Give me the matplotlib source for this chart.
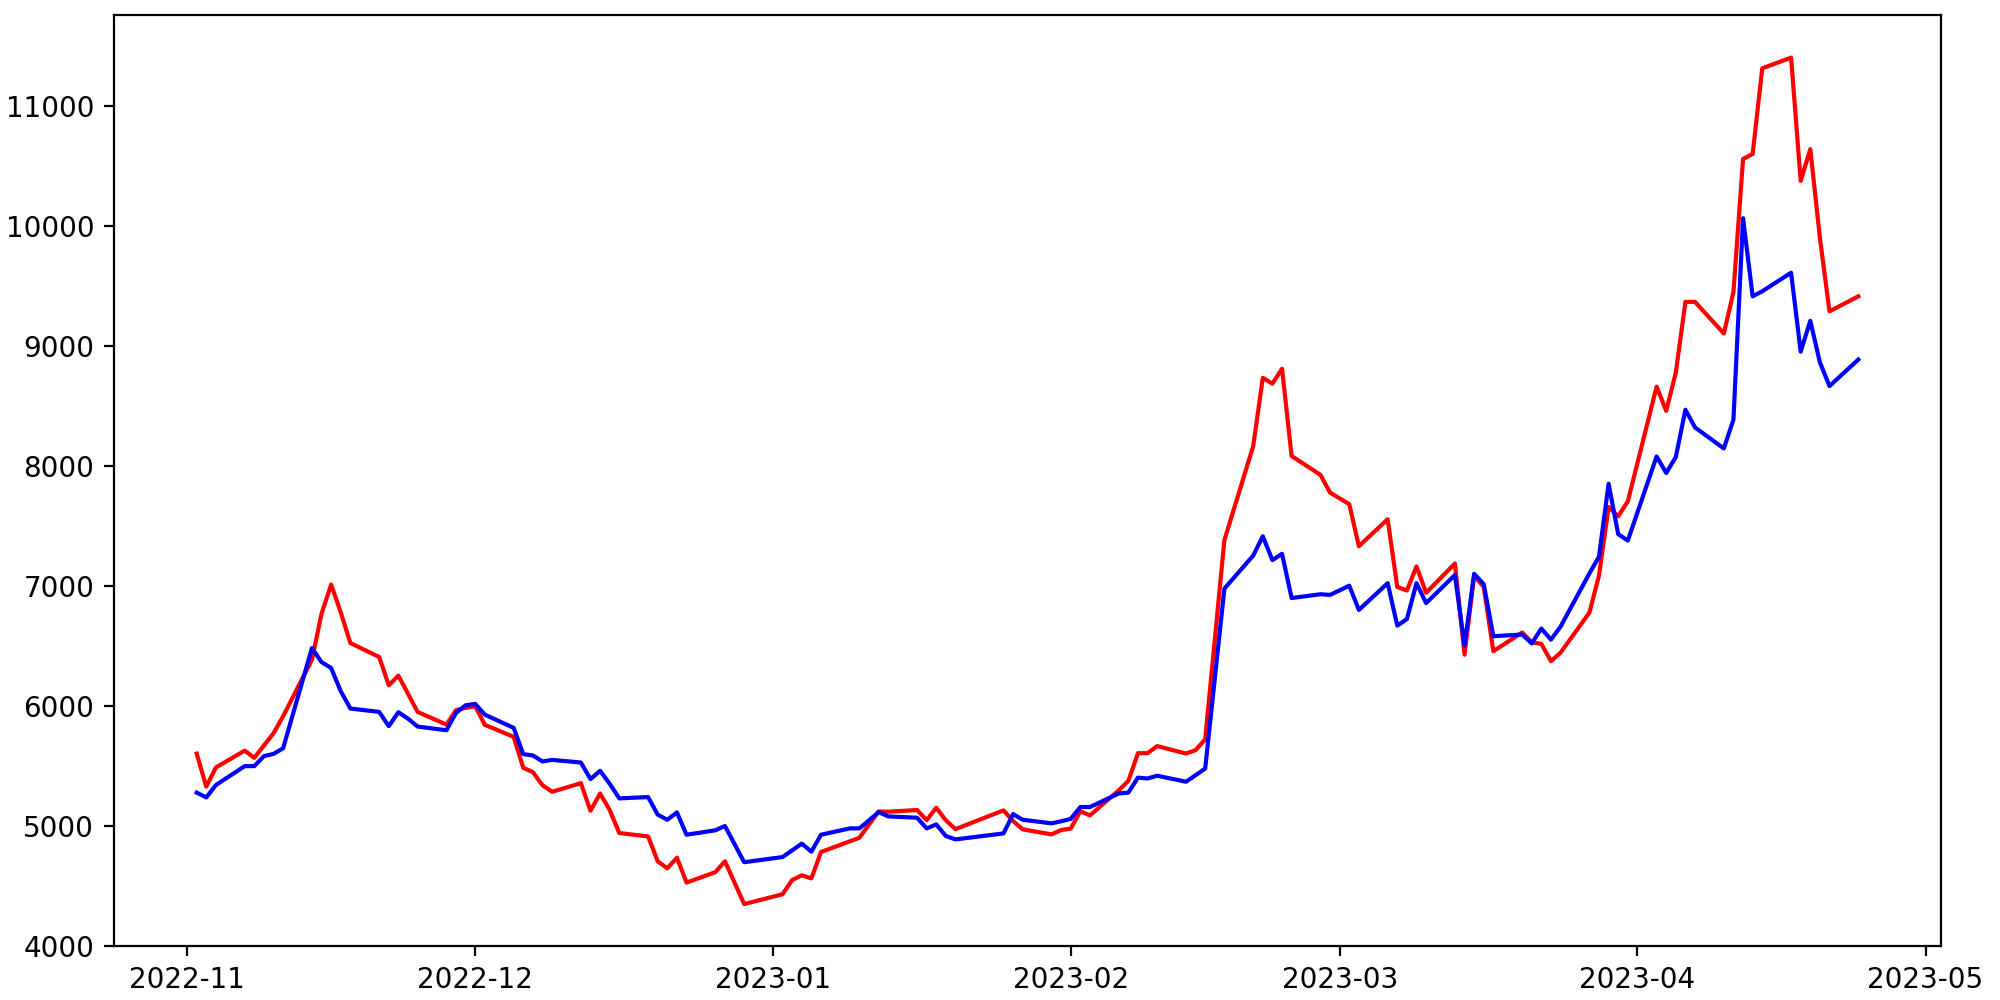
import matplotlib
matplotlib.use("Agg")
import matplotlib.pyplot as plt
import pandas as pd

# trading days, Nov 2 2022 .. Apr 24 2023 (weekday calendar minus closed days)
start_day = "2022-11-02"
end_day = "2023-04-24"
closed_days = ["2022-12-28", "2022-12-30", "2023-01-23", "2023-01-24",
               "2023-02-16", "2023-03-01"]

# red series
red_vals = [
    # Nov
    5605, 5330, 5490, 5630, 5570, 5673, 5775, 5917, 6388, 6771, 7015,
    6782, 6527, 6411, 6175, 6255, 6105, 5953, 5847, 5967, 5986,
    # Dec
    6000, 5845, 5745, 5487, 5451, 5342, 5287, 5359, 5129, 5273, 5135,
    4943, 4915, 4707, 4649, 4738, 4530, 4617, 4708, 4351,
    # Jan
    4433, 4552, 4591, 4565, 4785, 4874, 4904, 5013, 5123, 5121, 5135,
    5051, 5154, 5049, 4976, 5132, 5043, 4974, 4932, 4968,
    # Feb
    4980, 5125, 5090, 5299, 5378, 5609, 5609, 5668, 5606, 5634, 5725,
    7385, 8169, 8738, 8689, 8814, 8086, 7929, 7781,
    # Mar
    7685, 7334, 7559, 6994, 6965, 7165, 6946, 7190, 6430, 7085, 6997,
    6459, 6615, 6533, 6520, 6376, 6447, 6780, 7090, 7661, 7583, 7708,
    # Apr
    8664, 8462, 8782, 9371, 9371, 9107, 9453, 10562, 10604, 11318, 11407,
    10380, 10644, 9904, 9292, 9417,
]

# blue series
blue_vals = [
    # Nov
    5280, 5240, 5343, 5501, 5501, 5584, 5603, 5650, 6485, 6368, 6319,
    6125, 5981, 5953, 5834, 5950, 5897, 5831, 5800, 5945, 6008,
    # Dec
    6020, 5930, 5820, 5601, 5590, 5540, 5553, 5531, 5393, 5462, 5354,
    5232, 5243, 5096, 5054, 5115, 4929, 4966, 5002, 4700,
    # Jan
    4743, 4799, 4855, 4788, 4929, 4982, 4982, 5049, 5118, 5082, 5071,
    4982, 5015, 4918, 4890, 4940, 5101, 5054, 5024, 5041,
    # Feb
    5061, 5160, 5160, 5273, 5280, 5405, 5398, 5421, 5371, 5425, 5481,
    6981, 7256, 7417, 7218, 7271, 6902, 6934, 6928,
    # Mar
    7005, 6803, 7026, 6672, 6727, 7026, 6860, 7094, 6505, 7104, 7018,
    6584, 6598, 6524, 6648, 6555, 6664, 7107, 7247, 7855, 7435, 7381,
    # Apr
    8082, 7945, 8078, 8472, 8324, 8149, 8390, 10068, 9417, 9459, 9614,
    8956, 9213, 8867, 8669, 8890,
]

dates = pd.bdate_range(start_day, end_day)
dates = dates[~dates.isin(pd.to_datetime(closed_days))]

fig, ax = plt.subplots(figsize=(10, 5), dpi=200)
fig.subplots_adjust(left=0.0568, right=0.9707, bottom=0.0536, top=0.9847)

ax.plot(dates, red_vals, color="red")
ax.plot(dates, blue_vals, color="blue")

fig.savefig("out.png")
